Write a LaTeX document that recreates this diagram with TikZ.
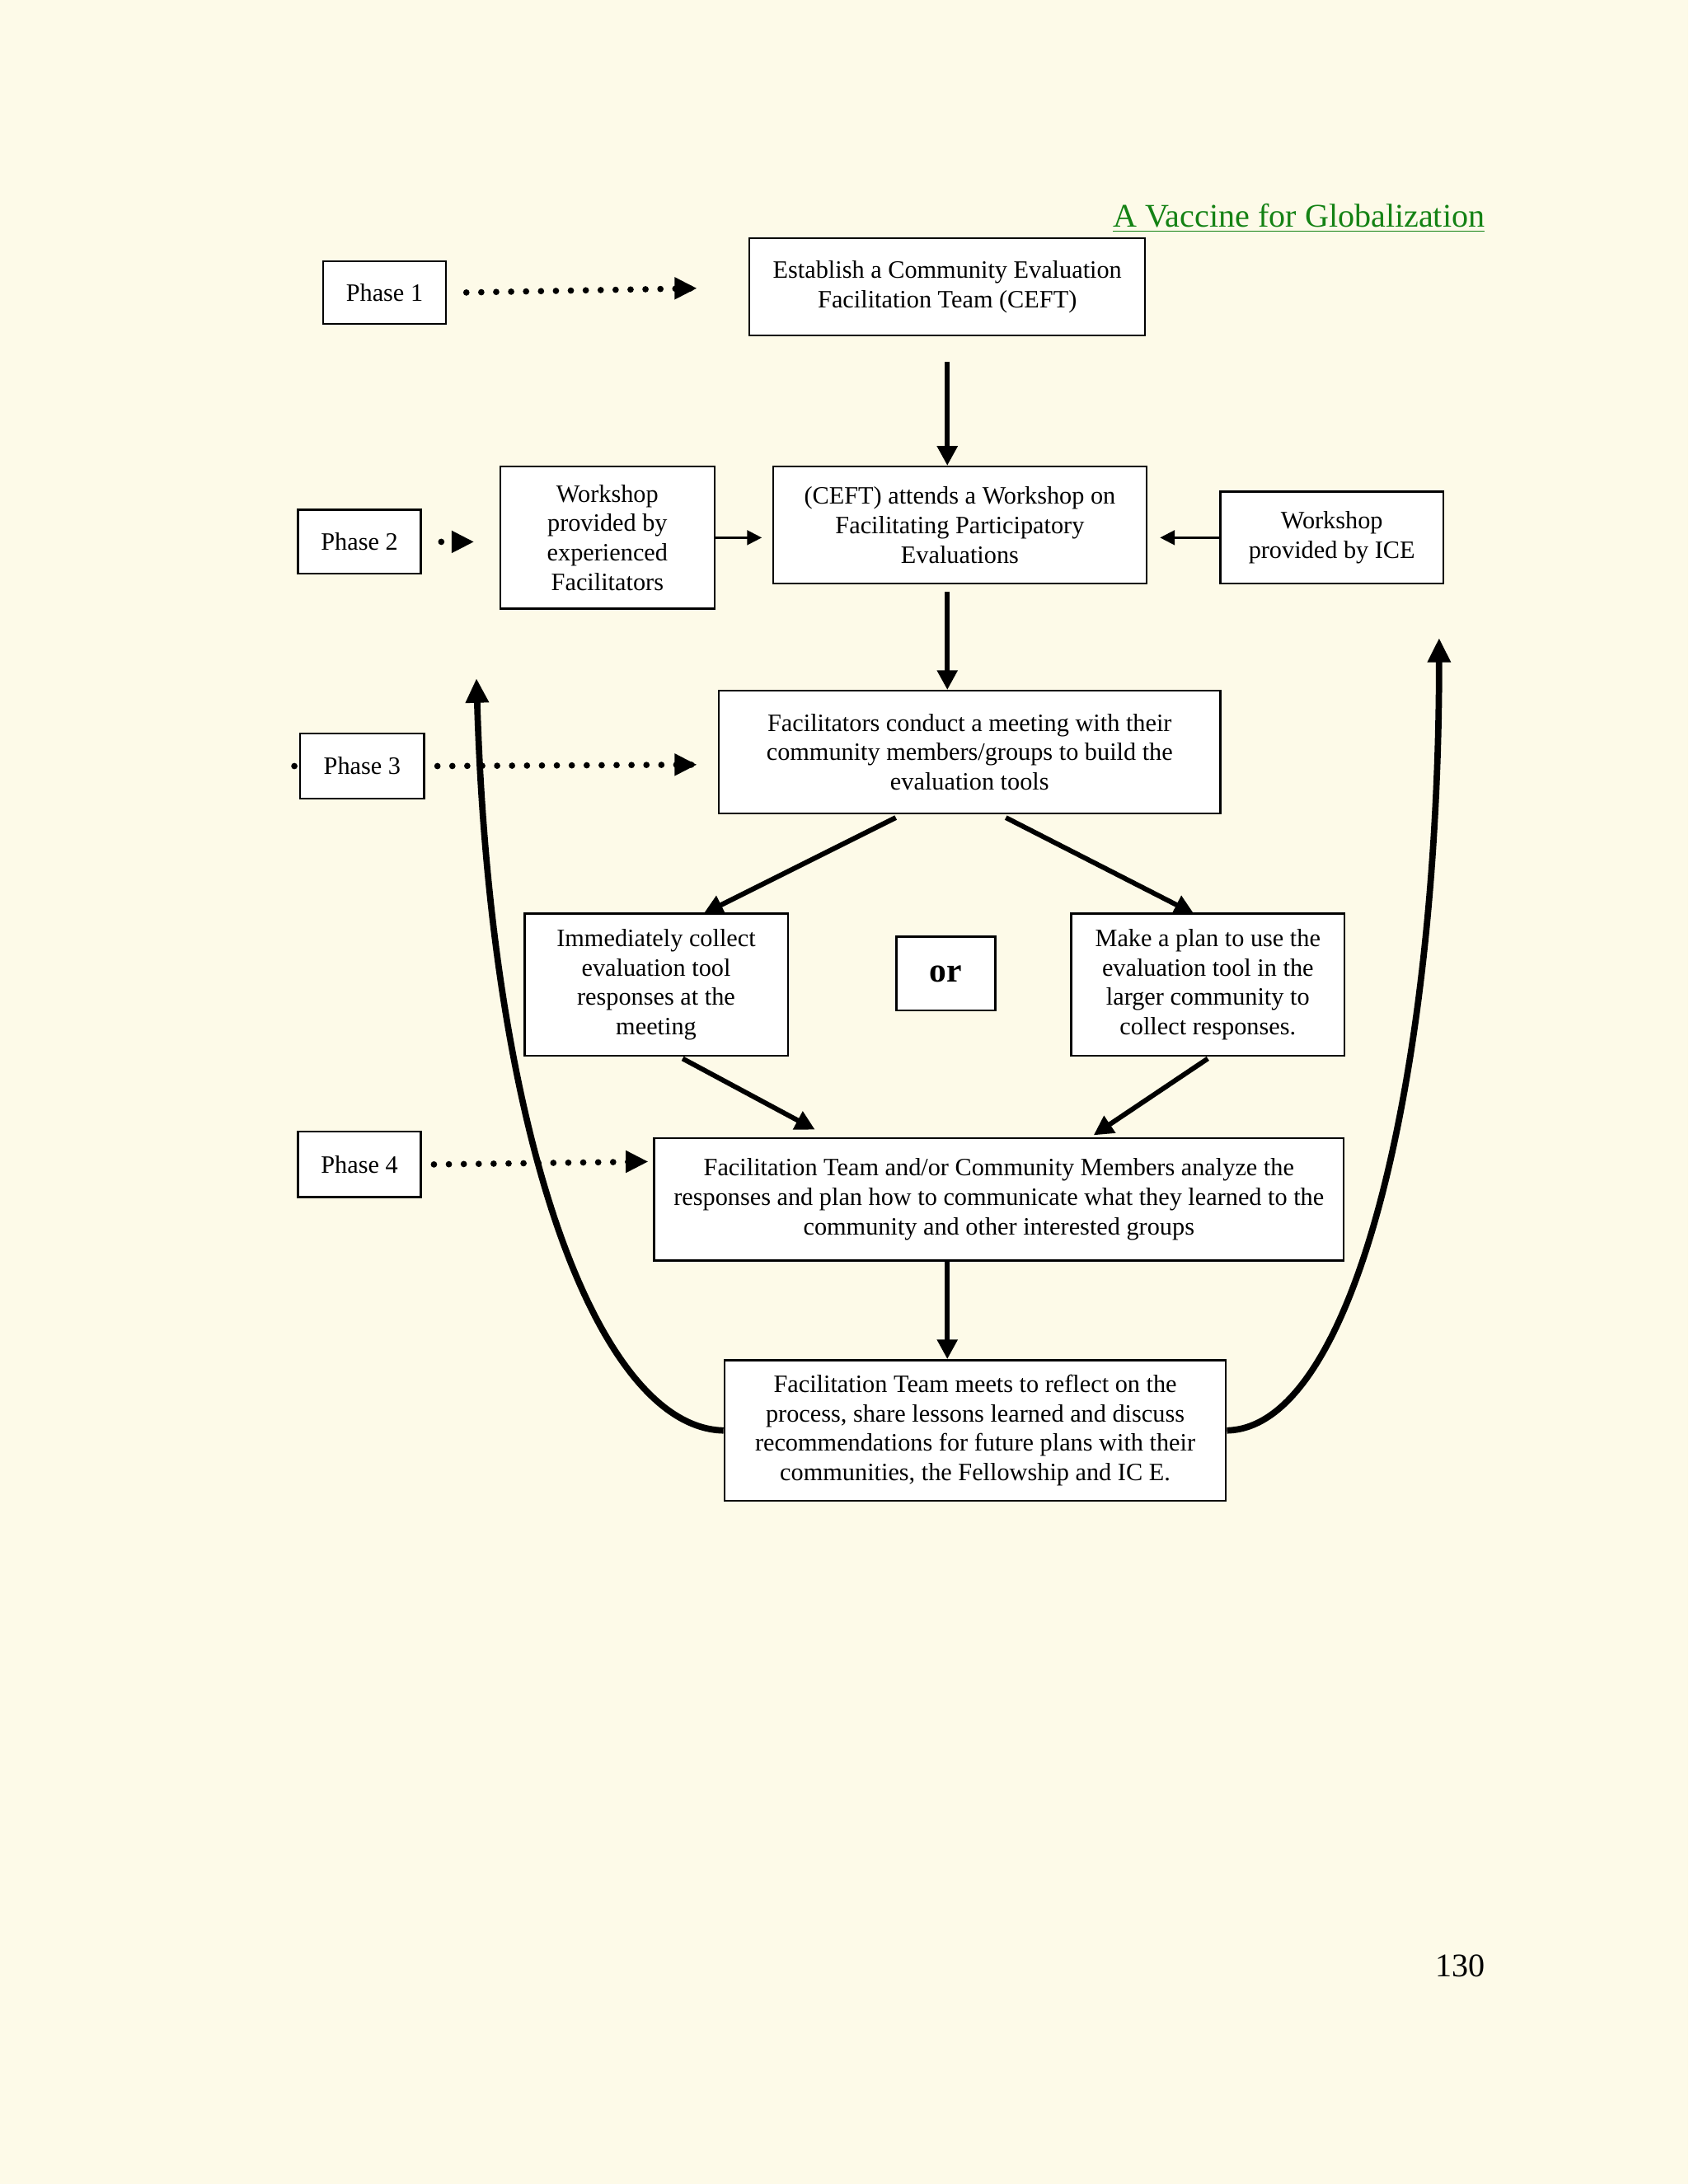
\documentclass[tikz,border=0pt]{standalone}
\usepackage{fontspec}
\setmainfont{Liberation Serif}
\usetikzlibrary{arrows.meta}
\definecolor{bg}{RGB}{253,250,232}
\definecolor{ttl}{RGB}{20,130,20}
\begin{document}
\begin{tikzpicture}[x=0.02cm,y=-0.02cm,
  box/.style={draw,line width=0.8pt,fill=white,align=center,inner sep=2pt,font=\fontsize{10.2}{12}\selectfont},
  thick arr/.style={line width=2pt,-{Triangle[length=8pt,width=8pt]}},
  thin arr/.style={line width=0.8pt,-{Triangle[length=6pt,width=6pt]}},
  dots/.style={line width=2.6pt,line cap=round,dash pattern=on 0pt off 6.1pt,shorten >=2pt},
  dottip/.style={-{Triangle[length=9pt,width=9pt]}}]
\fill[bg] (0,0) rectangle (1212,1568);
\useasboundingbox (0,0) rectangle (1212,1568);
\node[anchor=base east,text=ttl,font=\fontsize{13.5}{15}\selectfont] (title) at (1072,163) {\underline{A Vaccine for Globalization}};
\node[anchor=base east,font=\fontsize{13.5}{15}\selectfont] (pg) at (1072,1419) {130};
\newcommand{\bx}[6]{\node[box,minimum width=#4*0.02cm,minimum height=#5*0.02cm] (#1) at (#2,#3) {#6};}
\bx{p1}{276}{210}{88}{45}{Phase 1}
\bx{est}{680}{206}{284}{70}{Establish a Community Evaluation\\Facilitation Team (CEFT)}
\bx{p2}{258}{389}{88}{46}{Phase 2}
\bx{wexp}{436}{386}{154}{102}{Workshop\\provided by\\experienced\\Facilitators}
\bx{ceft}{689}{377}{268}{84}{(CEFT) attends a Workshop on\\Facilitating Participatory\\Evaluations}
\bx{wice}{956}{386}{160}{66}{Workshop\\provided by ICE}
\bx{p3}{260}{550}{89}{47}{Phase 3}
\bx{fac}{696}{540}{360}{88}{Facilitators conduct a meeting with their\\community members/groups to build the\\evaluation tools}
\bx{imm}{471}{707}{189}{102}{Immediately collect\\evaluation tool\\responses at the\\meeting}
\node[box,minimum width=71*0.02cm,minimum height=53*0.02cm,font=\bfseries\fontsize{14}{16}\selectfont] (or) at (679,699) {or};
\bx{plan}{867}{707}{196}{102}{Make a plan to use the\\evaluation tool in the\\larger community to\\collect responses.}
\bx{p4}{258}{836}{88}{47}{Phase 4}
\bx{ana}{717}{861}{495}{88}{Facilitation Team and/or Community Members analyze the\\responses and plan how to communicate what they learned to the\\community and other interested groups}
\bx{ref}{700}{1027}{360}{101}{Facilitation Team meets to reflect on the\\process, share lessons learned and discuss\\recommendations for future plans with their\\communities, the Fellowship and IC E.}
\coordinate (d1) at (500,207); \coordinate (d2) at (340,389);
\coordinate (d3) at (500,549); \coordinate (d4) at (465,834);
\coordinate (la) at (342,487); \coordinate (ra) at (1033,458);
\coordinate (fa) at (643,587); \coordinate (fb) at (722,587);
\coordinate (ia) at (505,656); \coordinate (pa) at (857,656);
\coordinate (ib) at (490,760); \coordinate (pb) at (867,760);
\coordinate (aa) at (585,811); \coordinate (ab) at (785,815);
\draw[dots] ([xshift=8pt]p1.east) -- (d1);
\draw[dottip,line width=1pt] ([xshift=-2pt]d1) -- (d1);
\draw[dots] ([xshift=8pt]p2.east) -- (d2);
\draw[dottip,line width=1pt] ([xshift=-2pt]d2) -- (d2);
\draw[dots] ([xshift=-2pt]p3.west) -- ([xshift=0pt]p3.west);
\draw[dots] ([xshift=5pt]p3.east) -- (d3);
\draw[dottip,line width=1pt] ([xshift=-2pt]d3) -- (d3);
\draw[dots] ([xshift=5pt]p4.east) -- (d4);
\draw[dottip,line width=1pt] ([xshift=-2pt]d4) -- (d4);
\draw[thick arr] ([yshift=-0.36cm]est.south) -- (ceft.north -| est.south);
\draw[thin arr] (wexp.east) -- ([xshift=-0.15cm]ceft.west |- wexp.east);
\draw[thin arr] (wice.west) -- ([xshift=0.18cm]ceft.east |- wice.west);
\draw[thick arr] ([yshift=-0.1cm]ceft.south -| est.south) -- (fac.north -| est.south);
\draw[thick arr] (fa) -- (ia);
\draw[thick arr] (fb) -- (pa);
\draw[thick arr] (ib) -- (aa);
\draw[thick arr] (pb) -- (ab);
\draw[thick arr] (ana.south -| est.south) -- (ref.north -| est.south);
\draw[line width=2.6pt,-{Triangle[length=10pt,width=9pt]}] (ref.west) .. controls (430,1025) and (352,820) .. (la);
\draw[line width=2.6pt,-{Triangle[length=10pt,width=9pt]}] (ref.east) .. controls (975,1025) and (1033,760) .. (ra);
\end{tikzpicture}
\end{document}
